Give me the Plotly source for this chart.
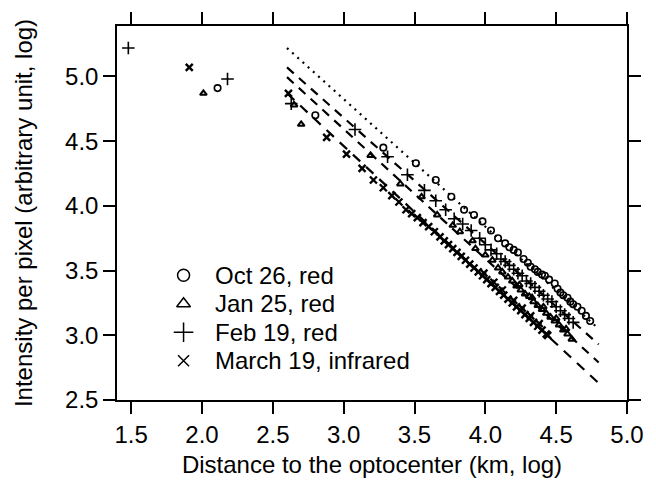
import plotly.graph_objects as go

# ---- data ----
oct_x = [2.11, 2.80, 3.28, 3.51, 3.65, 3.76, 3.85, 3.92, 3.98, 4.04, 4.09, 4.14, 4.17, 4.20,
         4.23, 4.27, 4.30, 4.32, 4.35, 4.37, 4.40, 4.42, 4.45, 4.49, 4.51, 4.53, 4.55, 4.58,
         4.60, 4.62, 4.65, 4.68, 4.71, 4.74]
oct_y = [4.91, 4.70, 4.45, 4.33, 4.20, 4.07, 3.97, 3.93, 3.88, 3.81, 3.75, 3.71, 3.68, 3.66,
         3.64, 3.59, 3.56, 3.53, 3.51, 3.49, 3.47, 3.46, 3.43, 3.40, 3.36, 3.33, 3.31, 3.29,
         3.26, 3.24, 3.22, 3.19, 3.15, 3.11]

jan_x = [2.01, 2.65, 2.70, 3.19, 3.40, 3.55, 3.66, 3.77, 3.82, 3.91, 3.93, 4.00, 4.05, 4.09,
         4.12, 4.16, 4.19, 4.22, 4.25, 4.28, 4.31, 4.34, 4.37, 4.40, 4.43, 4.46, 4.49, 4.52,
         4.55, 4.58, 4.61, 4.24, 4.33, 4.41, 4.50, 4.57]
jan_y = [4.87, 4.78, 4.63, 4.39, 4.17, 4.07, 3.93, 3.85, 3.80, 3.73, 3.67, 3.62, 3.58, 3.52,
         3.49, 3.45, 3.42, 3.38, 3.35, 3.32, 3.30, 3.26, 3.23, 3.20, 3.17, 3.14, 3.11, 3.08,
         3.04, 3.01, 2.97, 3.39, 3.29, 3.22, 3.13, 3.05]

feb_x = [1.48, 2.18, 2.63, 3.08, 3.31, 3.45, 3.57, 3.65, 3.72, 3.78, 3.84, 3.90, 3.96, 4.00,
         4.04, 4.08, 4.11, 4.14, 4.17, 4.20, 4.23, 4.26, 4.29, 4.32, 4.35, 4.38, 4.41, 4.44,
         4.47, 4.50, 4.53, 4.56, 4.59, 4.62]
feb_y = [5.22, 4.98, 4.79, 4.59, 4.38, 4.24, 4.12, 4.04, 3.97, 3.90, 3.86, 3.81, 3.75, 3.70,
         3.66, 3.63, 3.59, 3.57, 3.54, 3.51, 3.48, 3.46, 3.42, 3.40, 3.37, 3.34, 3.31, 3.28,
         3.26, 3.22, 3.19, 3.16, 3.13, 3.10]

mar_x = [1.91, 2.61, 2.88, 3.02, 3.13, 3.21, 3.28, 3.34, 3.39, 3.44, 3.48, 3.52, 3.56, 3.60,
         3.64, 3.68, 3.71, 3.74, 3.77, 3.80, 3.83, 3.86, 3.89, 3.92, 3.95, 3.98, 4.01, 4.04,
         4.07, 4.10, 4.13, 4.16, 4.19, 4.22, 4.25, 4.28, 4.31, 4.34, 4.37, 4.40, 4.43, 4.44,
         4.20, 4.26, 4.32, 4.38, 4.12, 4.06, 3.99]
mar_y = [5.07, 4.87, 4.53, 4.40, 4.29, 4.20, 4.14, 4.08, 4.03, 3.97, 3.94, 3.91, 3.87, 3.84,
         3.80, 3.76, 3.73, 3.70, 3.67, 3.64, 3.61, 3.58, 3.55, 3.52, 3.49, 3.46, 3.43, 3.40,
         3.37, 3.34, 3.31, 3.28, 3.25, 3.22, 3.19, 3.16, 3.13, 3.10, 3.07, 3.04, 3.01, 3.00,
         3.27, 3.21, 3.15, 3.09, 3.35, 3.41, 3.48]

fit_x = [2.6, 4.8]
oct_fit_y = [5.22, 3.05]
feb_fit_y = [5.07, 2.93]
jan_fit_y = [4.995, 2.79]
mar_fit_y = [4.87, 2.63]

x_ticks = [1.5, 2.0, 2.5, 3.0, 3.5, 4.0, 4.5, 5.0]
y_ticks = [2.5, 3.0, 3.5, 4.0, 4.5, 5.0]

labels = ["Oct 26, red", "Jan 25, red", "Feb 19, red", "March 19, infrared"]

FONT = "Liberation Sans, Arial, Helvetica, sans-serif"
FS = 24

# layout geometry (pixels)
W, H = 656, 488
ML, MR, MT, MB = 117, 18, 19, 88
PL, PR, PT, PB = ML, W - MR, MT, H - MB
LEG_SYM_X, LEG_TXT_X, LEG_TOP, LEG_STEP = 185, 215, 273, 29

fig = go.Figure()

# fitted lines
for fy, dash in [(oct_fit_y, "2px,5px"), (feb_fit_y, "9px,7px"),
                 (jan_fit_y, "9px,7px"), (mar_fit_y, "10px,8px")]:
    fig.add_trace(go.Scatter(x=fit_x, y=fy, mode="lines", showlegend=False,
                             line=dict(color="black", width=2.2, dash=dash),
                             hoverinfo="skip"))

# data markers
fig.add_trace(go.Scatter(x=oct_x, y=oct_y, mode="markers", name=labels[0], showlegend=False,
                         marker=dict(symbol="circle-open", size=6.5, color="black",
                                     line=dict(width=1.6, color="black"))))
fig.add_trace(go.Scatter(x=jan_x, y=jan_y, mode="markers", name=labels[1], showlegend=False,
                         marker=dict(symbol="triangle-up-open", size=6, color="black",
                                     line=dict(width=2, color="black"))))
fig.add_trace(go.Scatter(x=feb_x, y=feb_y, mode="markers", name=labels[2], showlegend=False,
                         marker=dict(symbol="cross-thin-open", size=9, color="black",
                                     line=dict(width=1.6, color="black"))))
fig.add_trace(go.Scatter(x=mar_x, y=mar_y, mode="markers", name=labels[3], showlegend=False,
                         marker=dict(symbol="x-thin-open", size=7, color="black",
                                     line=dict(width=2.4, color="black"))))

# hand-built legend: symbols on a pixel-scaled overlay axis, text as annotations
leg_syms = ["circle-open", "triangle-up-open", "cross-thin-open", "x-thin-open"]
leg_sizes = [12, 12, 14, 11]
leg_y = [LEG_TOP + i * LEG_STEP for i in range(len(labels))]
for sym, sz, yy in zip(leg_syms, leg_sizes, leg_y):
    fig.add_trace(go.Scatter(x=[LEG_SYM_X], y=[yy], xaxis="x2", yaxis="y2", mode="markers",
                             showlegend=False, hoverinfo="skip",
                             marker=dict(symbol=sym, size=sz, color="black",
                                         line=dict(width=1.5, color="black"))))
for lab, yy in zip(labels, leg_y):
    fig.add_annotation(text=lab, xref="paper", yref="paper",
                       x=(LEG_TXT_X - PL) / (PR - PL), y=(PB - yy) / (PB - PT),
                       xanchor="left", yanchor="middle", showarrow=False,
                       font=dict(family=FONT, size=FS, color="black"))

axis_common = dict(showline=True, linecolor="black", linewidth=1.5, mirror="ticks",
                   ticks="outside", ticklen=12, tickwidth=1.5, tickcolor="black",
                   showgrid=False, zeroline=False,
                   tickfont=dict(family=FONT, size=FS, color="black"))

fig.update_layout(
    width=W, height=H,
    margin=dict(l=ML, r=MR, t=MT, b=MB),
    paper_bgcolor="white", plot_bgcolor="white",
    font=dict(family=FONT, size=FS, color="black"),
    xaxis=dict(range=[1.40, 5.0], tickvals=x_ticks, ticktext=[f"{v:.1f}" for v in x_ticks],
               title=dict(text="Distance to the optocenter (km, log)",
                          font=dict(family=FONT, size=FS), standoff=10),
               **axis_common),
    yaxis=dict(range=[2.5, 5.39], tickvals=y_ticks, ticktext=[f"{v:.1f}" for v in y_ticks],
               title=dict(text="Intensity per pixel (arbitrary unit, log)",
                          font=dict(family=FONT, size=FS), standoff=26),
               **axis_common),
    xaxis2=dict(range=[PL, PR], overlaying="x", visible=False, fixedrange=True),
    yaxis2=dict(range=[PB, PT], overlaying="y", visible=False, fixedrange=True),
    showlegend=False,
)

fig.write_html("out.html")
